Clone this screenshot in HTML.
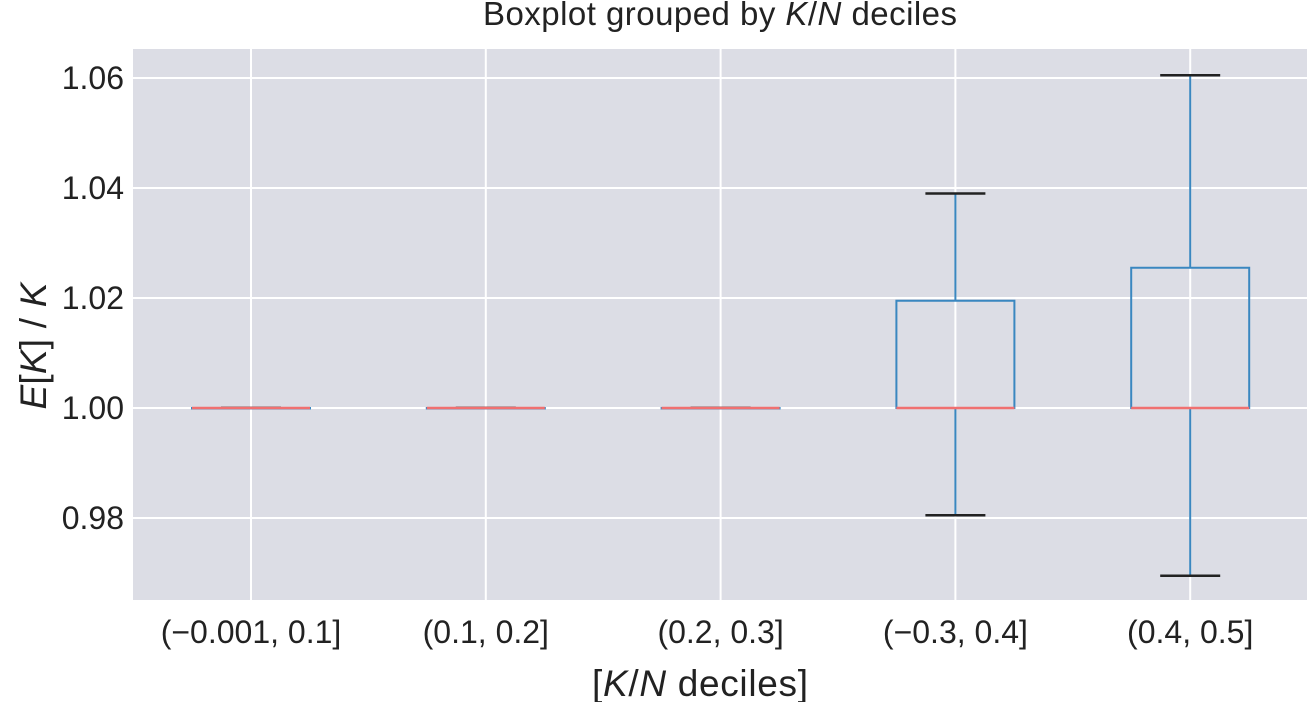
<!DOCTYPE html>
<html><head><meta charset="utf-8"><style>
body{margin:0;background:#fff;}
svg text{font-family:"Liberation Sans",sans-serif;fill:#222;}
</style></head><body>
<svg id="chart" width="1307" height="702">
<text x="720" y="25" font-size="33" text-anchor="middle" textLength="474">Boxplot grouped by <tspan font-style="italic">K</tspan>/<tspan font-style="italic">N</tspan> deciles</text>
<rect x="133" y="49" width="1174" height="551" fill="#dcdde5"/>
<g id="grid"></g>
<g id="boxes"></g>
<g id="ticks"></g>
<text x="700" y="696" font-size="37" text-anchor="middle" textLength="216">[<tspan font-style="italic">K</tspan>/<tspan font-style="italic">N</tspan> deciles]</text>
<text transform="translate(46,346) rotate(-90)" font-size="37" text-anchor="middle" textLength="127"><tspan font-style="italic">E</tspan>[<tspan font-style="italic">K</tspan>] / <tspan font-style="italic">K</tspan></text>
</svg>
<script>
const categories=["(\u22120.001, 0.1]","(0.1, 0.2]","(0.2, 0.3]","(\u22120.3, 0.4]","(0.4, 0.5]"];
const whiskerLow=[1.0,1.0,1.0,0.9805,0.9695];
const q1=[1.0,1.0,1.0,1.0,1.0];
const median=[1.0,1.0,1.0,1.0,1.0];
const q3=[1.0,1.0,1.0,1.0195,1.0255];
const whiskerHigh=[1.0,1.0,1.0,1.039,1.0605];
const yTicks=[0.98,1.00,1.02,1.04,1.06];
const NS="http://www.w3.org/2000/svg";
const y=v=>408-(v-1.0)*5500;
const x=i=>251+i*234.8;
function mk(tag,attrs,parent){const e=document.createElementNS(NS,tag);for(const k in attrs)e.setAttribute(k,attrs[k]);parent.appendChild(e);return e;}
const grid=document.getElementById('grid'),boxes=document.getElementById('boxes'),ticks=document.getElementById('ticks');
yTicks.forEach(t=>{
 const l=mk('line',{x1:133,x2:1307,y1:y(t),y2:y(t),stroke:'#fff','stroke-width':2},grid);
 
 
 const tx=mk('text',{x:124,y:y(t)+11,'font-size':32,'text-anchor':'end'},ticks);
 tx.textContent=t.toFixed(2);
 
 
});
categories.forEach((c,i)=>{
 const cx=x(i);
 const g=mk('line',{x1:cx,x2:cx,y1:49,y2:600,stroke:'#fff','stroke-width':2},grid);
 
 
 const bg=mk('g',{},boxes);
 
 
 const blue='#3a87c0';
 mk('line',{x1:cx,x2:cx,y1:y(q3[i]),y2:y(whiskerHigh[i]),stroke:blue,'stroke-width':2},bg);
 mk('line',{x1:cx,x2:cx,y1:y(q1[i]),y2:y(whiskerLow[i]),stroke:blue,'stroke-width':2},bg);
 mk('line',{x1:cx-30,x2:cx+30,y1:y(whiskerHigh[i]),y2:y(whiskerHigh[i]),stroke:'#222','stroke-width':2.5},bg);
 mk('line',{x1:cx-30,x2:cx+30,y1:y(whiskerLow[i]),y2:y(whiskerLow[i]),stroke:'#222','stroke-width':2.5},bg);
 mk('rect',{x:cx-59,y:y(q3[i]),width:118,height:Math.max(y(q1[i])-y(q3[i]),0.5),fill:'none',stroke:blue,'stroke-width':2},bg);
 mk('line',{x1:cx-59,x2:cx+59,y1:y(median[i]),y2:y(median[i]),stroke:'#f07070','stroke-width':2.5},bg);
 const tx=mk('text',{x:cx,y:643,'font-size':32,'text-anchor':'middle'},ticks);
 tx.textContent=c;
 
 
});
</script>
</body></html>
